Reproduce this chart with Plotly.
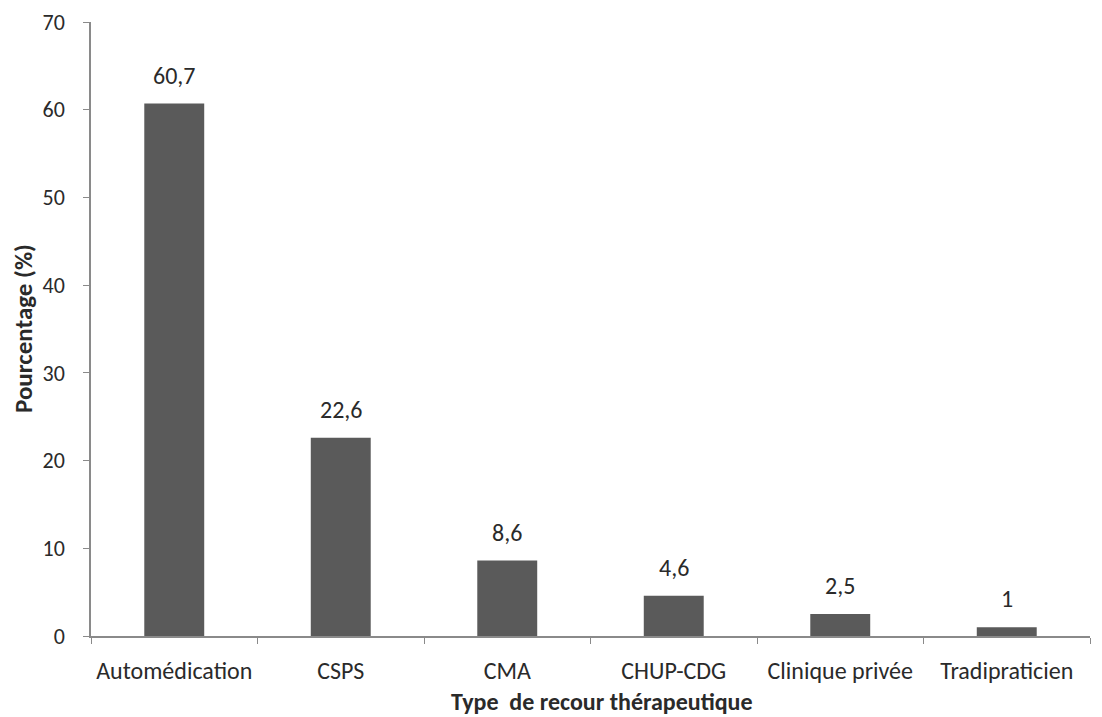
import plotly.graph_objects as go

categories = ["Automédication", "CSPS", "CMA", "CHUP-CDG", "Clinique privée", "Tradipraticien"]
percentages = [60.7, 22.6, 8.6, 4.6, 2.5, 1]
y_ticks = [0, 10, 20, 30, 40, 50, 60, 70]

labels = [f"{v:g}".replace(".", ",") for v in percentages]

FONT = "Carlito, Lato, sans-serif"
TEXT = "#2a2a2a"
AXIS = "#8a8a8a"

W, H = 1102, 717
M = dict(l=91, r=12, t=22, b=81)
plot_w = W - M["l"] - M["r"]
plot_h = H - M["t"] - M["b"]

fig = go.Figure(
    go.Bar(
        x=categories,
        y=percentages,
        marker=dict(color="#5a5a5a", line=dict(width=0)),
        hoverinfo="x+y",
    )
)

# value labels sitting a little above each bar
for cat, val, lab in zip(categories, percentages, labels):
    fig.add_annotation(
        x=cat, y=val, text=lab, showarrow=False,
        xanchor="center", yanchor="bottom", yshift=12,
        font=dict(family=FONT, size=24, color=TEXT),
    )

# axis titles placed in paper space
fig.add_annotation(
    text="<b>Type  de recour thérapeutique</b>",
    xref="paper", yref="paper",
    x=(602 - M["l"]) / plot_w, y=-(701 - (H - M["b"])) / plot_h,
    xanchor="center", yanchor="middle", showarrow=False,
    font=dict(family=FONT, size=24, color=TEXT),
)
fig.add_annotation(
    text="<b>Pourcentage (%)</b>",
    xref="paper", yref="paper",
    x=(23 - M["l"]) / plot_w, y=((H - M["b"]) - 329) / plot_h,
    xanchor="center", yanchor="middle", textangle=-90, showarrow=False,
    font=dict(family=FONT, size=25, color=TEXT),
)

fig.update_layout(
    width=W,
    height=H,
    margin=M,
    paper_bgcolor="white",
    plot_bgcolor="white",
    bargap=0.64,
    showlegend=False,
    font=dict(family=FONT, size=22, color=TEXT),
)

fig.update_xaxes(
    automargin=False,
    tickangle=0,
    showline=True,
    linecolor=AXIS,
    linewidth=1.5,
    ticks="outside",
    tickson="boundaries",
    ticklen=6,
    tickcolor=AXIS,
    showgrid=False,
    ticklabelstandoff=12,
    tickfont=dict(family=FONT, size=24, color=TEXT),
)

fig.update_yaxes(
    automargin=False,
    range=[0, 70],
    tickvals=y_ticks,
    showline=True,
    linecolor=AXIS,
    linewidth=1.5,
    ticks="outside",
    ticklen=6,
    tickcolor=AXIS,
    showgrid=False,
    zeroline=False,
    ticklabelstandoff=14,
    tickfont=dict(family=FONT, size=22, color=TEXT),
)

fig.write_html("out.html")
